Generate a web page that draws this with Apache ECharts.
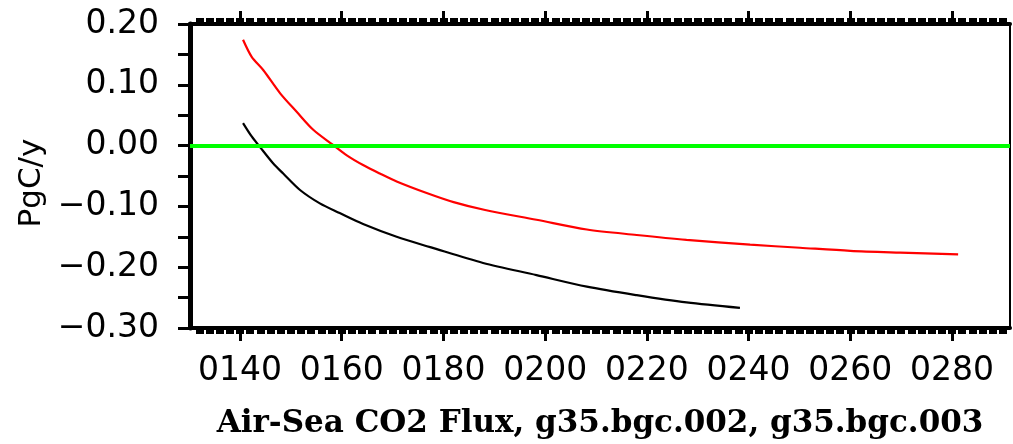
<!DOCTYPE html>
<html>
<head>
<meta charset="utf-8">
<script src="https://cdn.jsdelivr.net/npm/echarts@6/dist/echarts.min.js"></script>
<style>
  html, body { margin: 0; padding: 0; background: #fff; }
  #chart { width: 1013px; height: 444px; }
</style>
</head>
<body>
<div id="chart"></div>
<script>
// years (model time) and flux values
const redYears = [140.6, 142.3, 144.6, 147.9, 151.1, 154.4, 158.3, 161.0, 164.2, 167.5, 170.8, 176.7, 182.0, 188.2, 198.3, 208.2, 218.0, 227.8, 240.3, 250.1, 260.0, 269.8, 281.2];
const redFlux = [0.174, 0.146, 0.124, 0.086, 0.056, 0.026, 0.001, -0.016, -0.032, -0.046, -0.059, -0.078, -0.093, -0.106, -0.122, -0.138, -0.147, -0.155, -0.163, -0.168, -0.173, -0.176, -0.179];

const blackYears = [140.6, 142.3, 143.9, 146.5, 148.5, 151.8, 155.7, 159.6, 164.2, 170.8, 177.4, 187.8, 198.3, 208.2, 218.0, 227.8, 238.3];
const blackFlux = [0.037, 0.015, -0.002, -0.029, -0.046, -0.073, -0.095, -0.111, -0.129, -0.150, -0.167, -0.193, -0.213, -0.232, -0.246, -0.258, -0.267];

const xMajor = [140, 160, 180, 200, 220, 240, 260, 280];
const xMin = 130.17;
const xMax = 291.4;

// minor ticks every 2 years
const xMinor = [];
for (let v = 132; v < xMax; v += 2) xMinor.push(v);

const pairs = (xs, ys) => xs.map((x, i) => [x, ys[i]]);

const chart = echarts.init(document.getElementById('chart'));

const labelFont = { fontFamily: 'DejaVu Sans', fontSize: 33, color: '#000' };

const majorAxis = (pos) => ({
  type: 'value',
  position: pos,
  min: xMin,
  max: xMax,
  axisLine: { show: true, onZero: false, lineStyle: { color: '#000', width: 4 } },
  axisTick: { show: true, customValues: xMajor, length: 13, lineStyle: { color: '#000', width: 3 } },
  splitLine: { show: false }
});

const minorAxis = (pos) => ({
  type: 'value',
  position: pos,
  min: xMin,
  max: xMax,
  axisLine: { show: false, onZero: false },
  axisTick: { show: true, customValues: xMinor, length: 6, lineStyle: { color: '#000', width: 8 } },
  axisLabel: { show: false },
  splitLine: { show: false }
});

const bottomAxis = majorAxis('bottom');
bottomAxis.axisLabel = Object.assign({
  customValues: xMajor,
  margin: 27,
  formatter: (v) => String(Math.round(v)).padStart(4, '0')
}, labelFont);
bottomAxis.name = 'Air-Sea CO2 Flux, g35.bgc.002, g35.bgc.003';
bottomAxis.nameLocation = 'middle';
bottomAxis.nameGap = 80;
bottomAxis.nameTextStyle = { fontFamily: 'DejaVu Serif', fontWeight: 'bold', fontSize: 31, color: '#000' };

const topAxis = majorAxis('top');
topAxis.axisLabel = { show: false };

const option = {
  animation: false,
  backgroundColor: '#fff',
  grid: { left: 190, right: 3, top: 24, bottom: 116, containLabel: false },
  xAxis: [bottomAxis, minorAxis('bottom'), topAxis, minorAxis('top')],
  yAxis: [
    {
      type: 'value',
      position: 'left',
      min: -0.3,
      max: 0.2,
      interval: 0.05,
      axisLine: { show: true, onZero: false, lineStyle: { color: '#000', width: 5 } },
      axisTick: { show: true, length: 12, lineStyle: { color: '#000', width: 3 } },
      axisLabel: Object.assign({
        margin: 31,
        formatter: (v) => {
          const c = Math.round(v * 100);
          if (c % 10 !== 0) return '';
          const s = Math.abs(v).toFixed(2);
          return c < 0 ? '\u2212' + s : s;
        }
      }, labelFont),
      splitLine: { show: false },
      name: 'PgC/y',
      nameLocation: 'middle',
      nameGap: 136,
      nameTextStyle: { fontFamily: 'DejaVu Sans', fontSize: 31, color: '#000', padding: [0, 14, 0, 0] }
    },
    {
      type: 'value',
      position: 'right',
      min: -0.3,
      max: 0.2,
      axisLine: { show: true, onZero: false, lineStyle: { color: '#000', width: 2 } },
      axisTick: { show: false },
      axisLabel: { show: false },
      splitLine: { show: false }
    }
  ],
  series: [
    {
      name: 'g35.bgc.002',
      type: 'line',
      xAxisIndex: 0,
      yAxisIndex: 0,
      data: pairs(blackYears, blackFlux),
      smooth: 0.3,
      showSymbol: false,
      lineStyle: { color: '#000', width: 2.2 },
      z: 3
    },
    {
      name: 'g35.bgc.003',
      type: 'line',
      xAxisIndex: 0,
      yAxisIndex: 0,
      data: pairs(redYears, redFlux),
      smooth: 0.3,
      showSymbol: false,
      lineStyle: { color: '#ff0000', width: 2.2 },
      z: 3,
      markLine: {
        silent: true,
        symbol: 'none',
        label: { show: false },
        lineStyle: { color: '#00ff00', width: 4, type: 'solid' },
        data: [{ yAxis: 0 }]
      }
    }
  ]
};

chart.setOption(option);
window.addEventListener('resize', () => chart.resize());
</script>
</body>
</html>
